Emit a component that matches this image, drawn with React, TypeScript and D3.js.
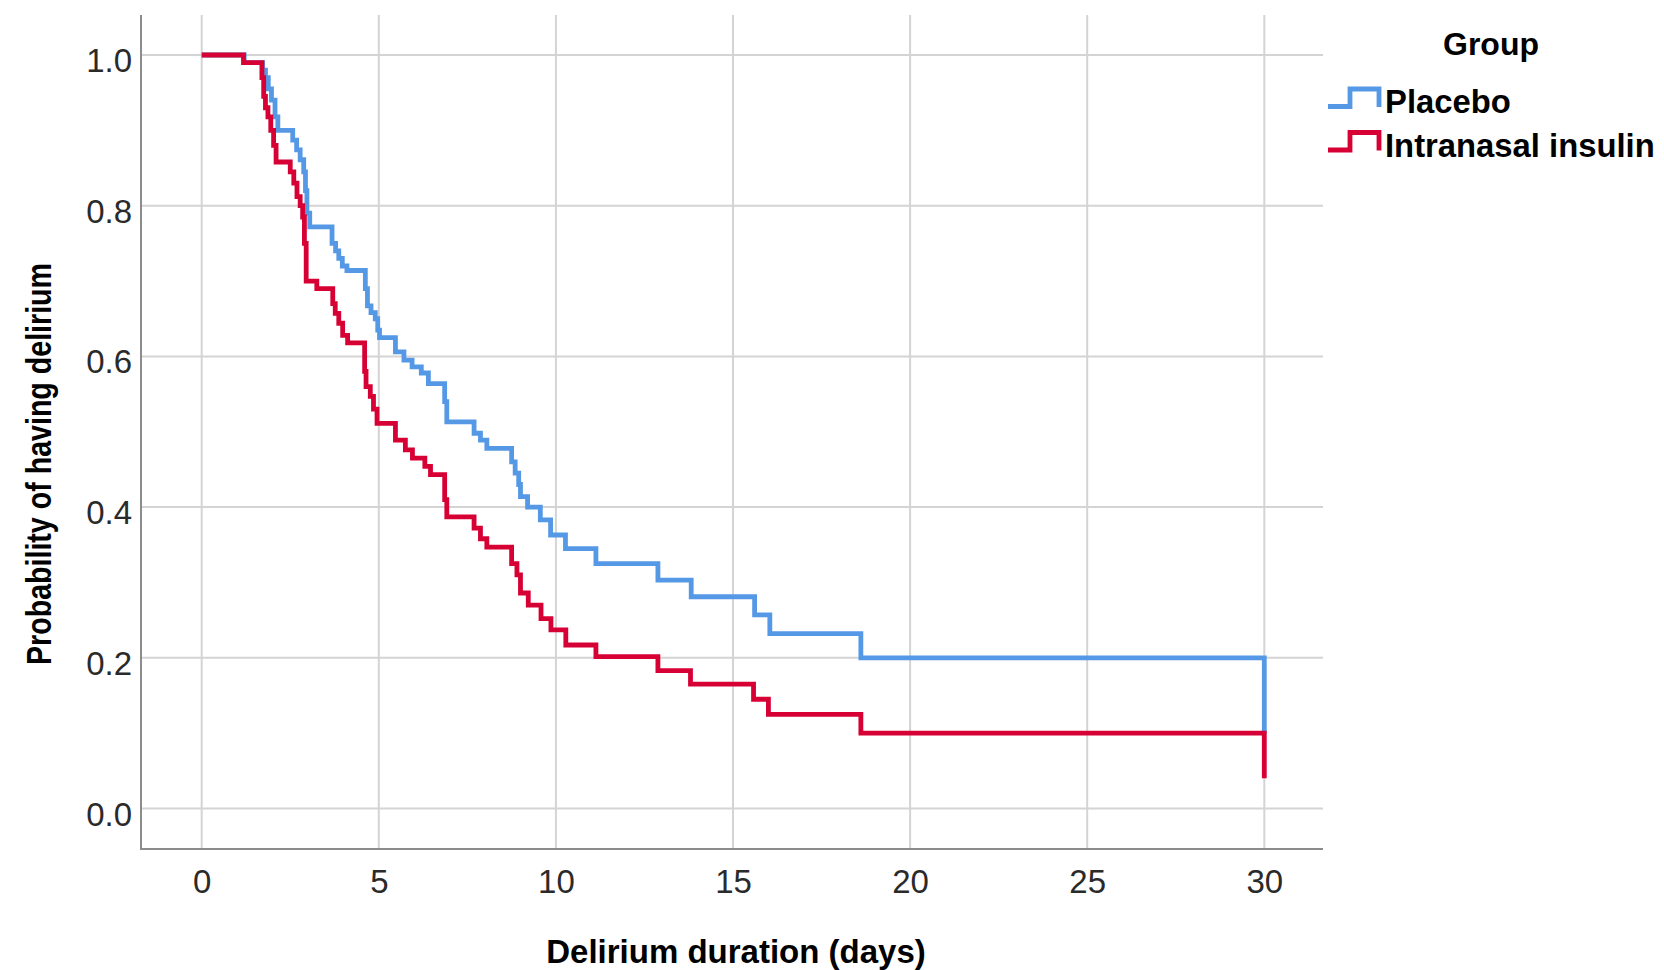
import { useEffect, useRef } from 'react'
import * as d3 from 'd3'

// Kaplan-Meier steps: time (days) and survival after the step
const placeboTimes = [0, 1.2, 1.72, 1.8, 1.88, 1.97, 2.07, 2.15, 2.57, 2.68, 2.78, 2.88, 2.93, 2.97, 3.05, 3.68, 3.78, 3.87, 3.97, 4.1, 4.62, 4.68, 4.78, 4.9, 4.97, 5.02, 5.47, 5.71, 5.94, 6.2, 6.4, 6.86, 6.92, 7.69, 7.87, 8.05, 8.75, 8.85, 8.95, 9.0, 9.2, 9.56, 9.85, 10.27, 11.13, 12.88, 13.82, 15.61, 16.04, 18.61, 30]
const placeboSurvival = [1.0, 0.99, 0.98, 0.97, 0.955, 0.94, 0.918, 0.9, 0.887, 0.874, 0.861, 0.845, 0.82, 0.79, 0.772, 0.75, 0.74, 0.73, 0.72, 0.714, 0.69, 0.667, 0.658, 0.65, 0.635, 0.625, 0.606, 0.595, 0.586, 0.578, 0.564, 0.54, 0.513, 0.498, 0.489, 0.478, 0.46, 0.445, 0.43, 0.414, 0.4, 0.383, 0.363, 0.345, 0.325, 0.303, 0.281, 0.257, 0.232, 0.2, 0.1]

const insulinTimes = [0, 1.18, 1.7, 1.75, 1.8, 1.87, 1.95, 2.03, 2.1, 2.5, 2.6, 2.69, 2.78, 2.85, 2.9, 2.95, 3.25, 3.7, 3.77, 3.87, 3.98, 4.12, 4.6, 4.64, 4.76, 4.85, 4.95, 5.47, 5.75, 5.95, 6.3, 6.46, 6.86, 6.92, 7.69, 7.87, 8.05, 8.75, 8.9, 9.0, 9.22, 9.58, 9.86, 10.28, 11.13, 12.88, 13.8, 15.58, 16.0, 18.61, 30]
const insulinSurvival = [1.0, 0.99, 0.97, 0.945, 0.93, 0.918, 0.9, 0.88, 0.858, 0.845, 0.83, 0.812, 0.8, 0.785, 0.75, 0.7, 0.69, 0.67, 0.657, 0.644, 0.628, 0.618, 0.58, 0.56, 0.547, 0.53, 0.511, 0.489, 0.476, 0.465, 0.454, 0.443, 0.41, 0.387, 0.372, 0.358, 0.347, 0.325, 0.31, 0.286, 0.27, 0.252, 0.237, 0.217, 0.2015, 0.183, 0.165, 0.145, 0.125, 0.1, 0.04]

const groupNames = ['Placebo', 'Intranasal insulin']
const groupColors = ['#5599e6', '#d70034']
const xTicks = [0, 5, 10, 15, 20, 25, 30]
const yTicks = [0, 0.2, 0.4, 0.6, 0.8, 1.0]

const FONT = '"Liberation Sans", Arial, sans-serif'

export default function App() {
  const svgRef = useRef<SVGSVGElement>(null)

  useEffect(() => {
    document.body.style.margin = '0'
    if (!svgRef.current) return
    const svg = d3.select(svgRef.current)
    svg.selectAll('*').remove()

    // plot frame
    const left = 141, right = 1323, top = 15, bottom = 849

    const x = d3.scaleLinear().domain([0, 30]).range([201.7, 1264.3])
    const y = d3.scaleLinear().domain([0, 1]).range([808.5, 55])

    // gridlines
    svg.append('g')
      .selectAll('line')
      .data(yTicks)
      .join('line')
      .attr('x1', left).attr('x2', right)
      .attr('y1', d => y(d)).attr('y2', d => y(d))
      .attr('stroke', '#d4d4d4').attr('stroke-width', 2)

    svg.append('g')
      .selectAll('line')
      .data(xTicks)
      .join('line')
      .attr('x1', d => x(d)).attr('x2', d => x(d))
      .attr('y1', top).attr('y2', bottom)
      .attr('stroke', '#d4d4d4').attr('stroke-width', 2)

    // axes
    const xAxis = svg.append('g')
      .attr('transform', `translate(0,${bottom})`)
      .call(d3.axisBottom(x).tickValues(xTicks).tickSize(0).tickPadding(21).tickFormat(d3.format('d')))
    xAxis.select('.domain').remove()
    xAxis.selectAll('text')
      .attr('font-family', FONT).attr('font-size', 33).attr('fill', '#2a2a2a')

    const yAxis = svg.append('g')
      .attr('transform', `translate(${left},0)`)
      .call(d3.axisLeft(y).tickValues(yTicks).tickSize(0).tickPadding(9).tickFormat(d3.format('.1f')))
    yAxis.select('.domain').remove()
    yAxis.selectAll('text')
      .attr('font-family', FONT).attr('font-size', 33).attr('fill', '#2a2a2a')
      .attr('dy', '0.5em')

    svg.append('line')
      .attr('x1', left).attr('x2', left).attr('y1', top).attr('y2', bottom + 1)
      .attr('stroke', '#8c8c8c').attr('stroke-width', 2)
    svg.append('line')
      .attr('x1', left - 1).attr('x2', right).attr('y1', bottom).attr('y2', bottom)
      .attr('stroke', '#8c8c8c').attr('stroke-width', 2)

    // survival curves
    const line = d3.line<[number, number]>()
      .x(d => x(d[0]))
      .y(d => y(d[1]))
      .curve(d3.curveStepAfter)

    const series: [number, number][][] = [
      placeboTimes.map((t, i) => [t, placeboSurvival[i]]),
      insulinTimes.map((t, i) => [t, insulinSurvival[i]]),
    ]

    svg.append('g')
      .selectAll('path')
      .data(series)
      .join('path')
      .attr('d', d => line(d))
      .attr('fill', 'none')
      .attr('stroke', (_, i) => groupColors[i])
      .attr('stroke-width', 4.8)
      .attr('stroke-linejoin', 'miter')

    // axis titles
    svg.append('text')
      .attr('x', 736).attr('y', 963)
      .attr('text-anchor', 'middle')
      .attr('font-family', FONT).attr('font-size', 33).attr('font-weight', 'bold')
      .attr('fill', '#000')
      .text('Delirium duration (days)')

    svg.append('text')
      .attr('transform', 'translate(51,464) rotate(-90)')
      .attr('text-anchor', 'middle')
      .attr('font-family', FONT).attr('font-size', 35).attr('font-weight', 'bold')
      .attr('textLength', 402).attr('lengthAdjust', 'spacingAndGlyphs')
      .attr('fill', '#000')
      .text('Probability of having delirium')

    // legend
    const legend = svg.append('g')
    legend.append('text')
      .attr('x', 1491).attr('y', 55)
      .attr('text-anchor', 'middle')
      .attr('font-family', FONT).attr('font-size', 32).attr('font-weight', 'bold')
      .attr('fill', '#000')
      .text('Group')

    const rows = legend.selectAll('g.row')
      .data(groupNames)
      .join('g')
      .attr('class', 'row')
      .attr('transform', (_, i) => `translate(0,${113 + i * 43.5})`)

    rows.append('path')
      .attr('d', 'M1328,-6.5H1350V-24H1379V-6')
      .attr('fill', 'none')
      .attr('stroke', (_, i) => groupColors[i])
      .attr('stroke-width', 4.8)

    rows.append('text')
      .attr('x', 1385).attr('y', 0)
      .attr('font-family', FONT).attr('font-size', 32.8).attr('font-weight', 'bold')
      .attr('fill', '#000')
      .text(d => d)
  }, [])

  return (
    <svg
      ref={svgRef}
      width={1664}
      height={970}
      style={{ display: 'block', background: '#fff' }}
    />
  )
}
